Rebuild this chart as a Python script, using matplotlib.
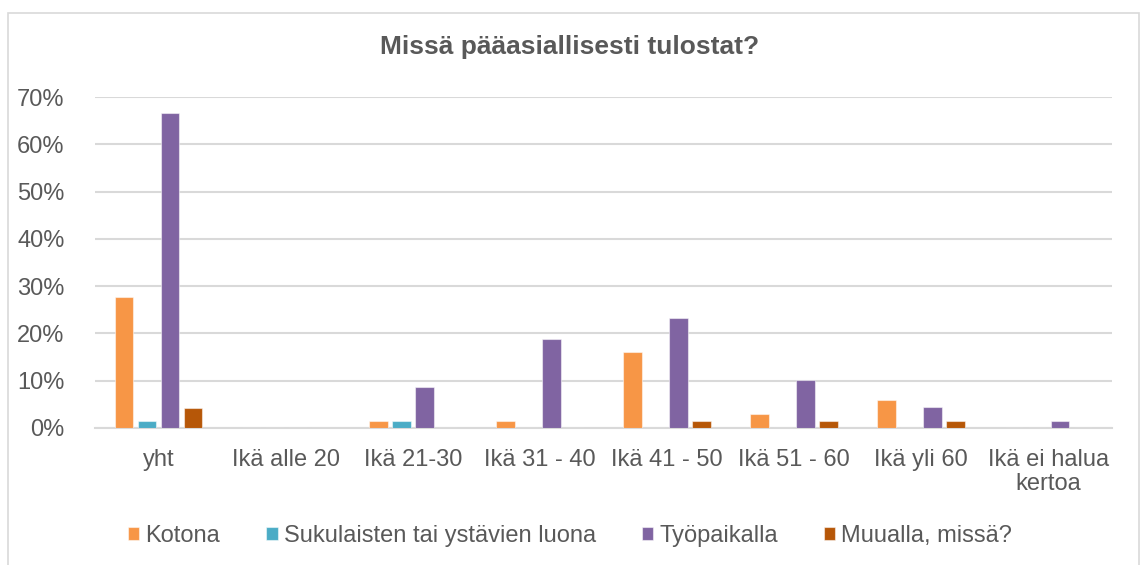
import matplotlib
matplotlib.use("Agg")
import matplotlib.pyplot as plt
import numpy as np
from matplotlib.patches import Rectangle
from matplotlib.ticker import PercentFormatter

plt.rcParams['font.family'] = ['Liberation Sans', 'DejaVu Sans']

categories = ["yht", "Ikä alle 20", "Ikä 21-30", "Ikä 31 - 40", "Ikä 41 - 50",
              "Ikä 51 - 60", "Ikä yli 60", "Ikä ei halua\nkertoa"]
series_names = ["Kotona", "Sukulaisten tai ystävien luona", "Työpaikalla", "Muualla, missä?"]
kotona = [27.8, 0, 1.4, 1.4, 16.0, 2.9, 5.9, 0]
sukulaiset = [1.4, 0, 1.4, 0, 0, 0, 0, 0]
tyopaikka = [66.7, 0, 8.7, 18.9, 23.2, 10.1, 4.4, 1.4]
muualla = [4.3, 0, 0, 0, 1.4, 1.4, 1.4, 0]
colors = ["#F79646", "#4BACC6", "#8064A2", "#B65708"]

grey = "#595959"
fig = plt.figure(figsize=(11.4, 5.65), dpi=100)
ax = fig.add_axes([95/1140, 1 - 428/565, (1112 - 95)/1140, (428 - 97)/565])

# kehys kaavion ympärillä
fig.patches.append(Rectangle((8/1140, -0.05), (1139 - 8)/1140, 1.05 - 13/565,
                             transform=fig.transFigure, fill=False,
                             edgecolor="#D9D9D9", linewidth=1.2))

x = np.arange(len(categories))
w = 0.147
pitch = 0.181
for i, (vals, c, name) in enumerate(zip([kotona, sukulaiset, tyopaikka, muualla], colors, series_names)):
    ax.bar(x + (i - 1.5) * pitch, np.array(vals) / 100, width=w, color=c, label=name,
           edgecolor=(1, 1, 1, 0.5), linewidth=0.8, zorder=3)

ax.set_xlim(-0.5, len(categories) - 0.5)
ax.set_ylim(0, 0.7)
ax.set_yticks(np.arange(0, 0.71, 0.1))
ax.yaxis.set_major_formatter(PercentFormatter(1.0, decimals=0))
ax.grid(axis="y", color="#D9D9D9", linewidth=1.5, zorder=0)
ax.set_axisbelow(True)
for s in ["top", "right", "left"]:
    ax.spines[s].set_visible(False)
ax.spines["bottom"].set_color("#D9D9D9")
ax.spines["bottom"].set_linewidth(1.5)
ax.set_xticks(x)
ax.set_xticklabels(categories, linespacing=1.15)
ax.tick_params(axis="both", length=0, labelsize=17, colors=grey)
ax.tick_params(axis="x", pad=15)
ax.tick_params(axis="y", pad=22)

fig.text(0.5, 1 - 47/565, "Missä pääasiallisesti tulostat?", ha="center", va="center",
         fontsize=19, fontweight="bold", color=grey)

fig.legend(loc="center", bbox_to_anchor=(0.5, 1 - 536/565), ncol=4, frameon=False,
           fontsize=17, labelcolor=grey, handlelength=0.49, handleheight=0.49,
           handletextpad=0.25, columnspacing=1.95)

fig.savefig("out.png", dpi=100)
